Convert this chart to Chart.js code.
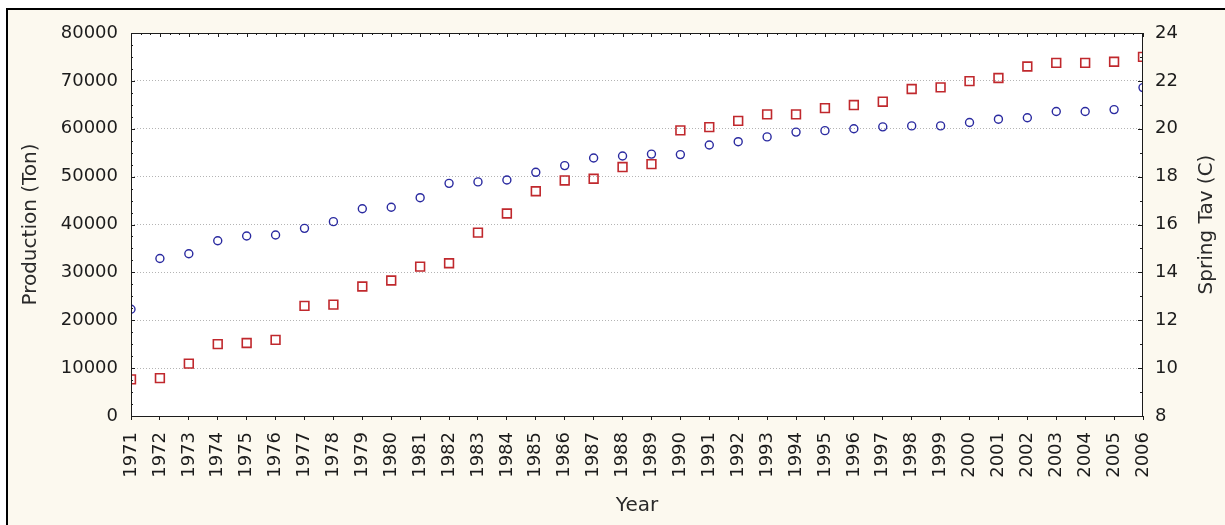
<!DOCTYPE html>
<html>
<head>
<meta charset="utf-8">
<script src="https://cdn.jsdelivr.net/npm/chart.js@4/dist/chart.umd.min.js"></script>
<style>
  html, body { margin: 0; padding: 0; background: #ffffff; }
  #wrap { width: 1225px; height: 525px; }
</style>
</head>
<body>
<div id="wrap"><canvas id="chart" width="1225" height="525"></canvas></div>
<script>
const years = [
  1971, 1972, 1973, 1974, 1975, 1976, 1977, 1978, 1979, 1980, 1981, 1982,
  1983, 1984, 1985, 1986, 1987, 1988, 1989, 1990, 1991, 1992, 1993, 1994,
  1995, 1996, 1997, 1998, 1999, 2000, 2001, 2002, 2003, 2004, 2005, 2006,
];

// blue circles, left axis
const productionTon = [
  22300, 32900, 33900, 36600, 37600, 37800, 39200, 40600, 43300, 43600, 45600, 48600,
  48900, 49300, 50900, 52300, 53900, 54300, 54700, 54600, 56600, 57300, 58300, 59300,
  59600, 60000, 60400, 60600, 60600, 61300, 62000, 62300, 63600, 63600, 64000, 68600,
];

// red squares, right axis
const springTavC = [
  9.53, 9.58, 10.19, 11.0, 11.05, 11.18, 12.6, 12.65, 13.41, 13.66, 14.24, 14.38,
  15.66, 16.46, 17.39, 17.84, 17.91, 18.4, 18.52, 19.93, 20.07, 20.33, 20.6, 20.6,
  20.86, 20.99, 21.13, 21.66, 21.73, 21.99, 22.12, 22.6, 22.75, 22.75, 22.8, 23.0,
];

const productionRange = [0, 80000, 10000];
const tempRange = [8, 24, 2];

const FONT = "'DejaVu Sans', sans-serif";
const INK = "#1c1c1c";

Chart.defaults.font.family = FONT;
Chart.defaults.color = INK;

// frame, background and the small inward tick marks of the old-style plot
const framePlugin = {
  id: "frame",
  beforeDraw(chart) {
    const { ctx, width, height, chartArea } = chart;
    ctx.save();
    ctx.fillStyle = "#ffffff";
    ctx.fillRect(0, 0, width, height);
    ctx.fillStyle = "#fcf9ef";
    ctx.fillRect(6, 8, width - 6, height - 8);
    ctx.fillStyle = "#000000";
    ctx.fillRect(6, 8, width - 6, 2);
    ctx.fillRect(6, 8, 2, height - 8);
    ctx.fillStyle = "#ffffff";
    ctx.fillRect(chartArea.left, chartArea.top, chartArea.right - chartArea.left, chartArea.bottom - chartArea.top);
    ctx.restore();
  },
  afterDraw(chart) {
    const { ctx, chartArea, scales } = chart;
    const { left, right, top, bottom } = chartArea;
    ctx.save();
    ctx.strokeStyle = INK;
    ctx.lineWidth = 1;

    ctx.beginPath();
    // left axis: major every 10000, minor every 2500
    for (let v = productionRange[0]; v <= productionRange[1]; v += 2500) {
      const py = Math.round(scales.y.getPixelForValue(v)) + 0.5;
      const len = v % productionRange[2] === 0 ? 4 : 2;
      ctx.moveTo(left, py);
      ctx.lineTo(left + len, py);
    }
    // right axis: major every 2, minor every 1
    for (let v = tempRange[0]; v <= tempRange[1]; v += 1) {
      const py = Math.round(scales.y2.getPixelForValue(v)) + 0.5;
      const len = v % tempRange[2] === 0 ? 5 : 3;
      ctx.moveTo(right, py);
      ctx.lineTo(right - len, py);
    }
    // top edge: major each year, minor every third of a year
    const steps = (years[years.length - 1] - years[0]) * 3;
    for (let i = 0; i <= steps; i++) {
      const px = Math.round(scales.x.getPixelForValue(years[0] + i / 3)) + 0.5;
      const len = i % 3 === 0 ? 4 : 2;
      ctx.moveTo(px, top);
      ctx.lineTo(px, top + len);
    }
    ctx.stroke();

    ctx.strokeRect(Math.round(left) + 0.5, Math.round(top) + 0.5, Math.round(right - left) - 1, Math.round(bottom - top));

    // right axis title reads bottom-to-top in the original
    ctx.fillStyle = "#2a2a2a";
    ctx.font = "20px " + FONT;
    ctx.textAlign = "center";
    ctx.textBaseline = "middle";
    ctx.translate(1207, (top + bottom) / 2);
    ctx.rotate(-Math.PI / 2);
    ctx.fillText("Spring Tav (C)", 0, 0);
    ctx.restore();
  },
};

const gridColor = (ctx) =>
  ctx.tick && (ctx.tick.value === productionRange[0] || ctx.tick.value === productionRange[1])
    ? "rgba(0,0,0,0)"
    : "#b4b4b4";

new Chart(document.getElementById("chart"), {
  type: "scatter",
  data: {
    datasets: [
      {
        label: "Production (Ton)",
        data: years.map((year, i) => ({ x: year, y: productionTon[i] })),
        yAxisID: "y",
        pointStyle: "circle",
        pointRadius: 4,
        pointBorderWidth: 1.4,
        borderColor: "#2a2aa0",
        backgroundColor: "rgba(0,0,0,0)",
        showLine: false,
        clip: 0,
      },
      {
        label: "Spring Tav (C)",
        data: years.map((year, i) => ({ x: year, y: springTavC[i] })),
        yAxisID: "y2",
        pointStyle: "rect",
        pointRadius: 6.2,
        pointBorderWidth: 1.6,
        borderColor: "#c0282d",
        backgroundColor: "rgba(0,0,0,0)",
        showLine: false,
        clip: 0,
      },
    ],
  },
  options: {
    responsive: false,
    animation: false,
    devicePixelRatio: 1,
    layout: { padding: { top: 33, left: 0, right: 0, bottom: 0 } },
    plugins: {
      legend: { display: false },
      tooltip: { enabled: false },
    },
    scales: {
      x: {
        type: "linear",
        position: "bottom",
        min: years[0],
        max: years[years.length - 1],
        afterFit: (scale) => { scale.height = 109; },
        afterBuildTicks: (scale) => { scale.ticks = years.map((year) => ({ value: year })); },
        ticks: {
          autoSkip: false,
          minRotation: 90,
          maxRotation: 90,
          padding: 12,
          color: INK,
          font: { size: 18 },
          callback: (value) => String(value),
        },
        grid: { display: true, drawOnChartArea: false, drawTicks: true, tickLength: 4, color: INK },
        border: { display: false },
        title: { display: true, text: "Year", color: "#2a2a2a", font: { size: 20 }, padding: { top: 0, bottom: 7 } },
      },
      y: {
        position: "left",
        min: productionRange[0],
        max: productionRange[1],
        afterFit: (scale) => { scale.width = 131; },
        ticks: {
          stepSize: productionRange[2],
          padding: 13,
          color: INK,
          font: { size: 18 },
          callback: (value) => String(value),
        },
        grid: { drawTicks: false, color: gridColor, lineWidth: 1 },
        border: { display: false, dash: [1, 2] },
        title: { display: true, text: "Production (Ton)", color: "#2a2a2a", font: { size: 20 }, padding: { top: 19, bottom: 0 } },
      },
      y2: {
        position: "right",
        min: tempRange[0],
        max: tempRange[1],
        afterFit: (scale) => { scale.width = 82; },
        ticks: {
          stepSize: tempRange[2],
          padding: 12,
          color: INK,
          font: { size: 18 },
        },
        grid: { drawOnChartArea: false, drawTicks: false },
        border: { display: false },
      },
    },
  },
  plugins: [framePlugin],
});
</script>
</body>
</html>
